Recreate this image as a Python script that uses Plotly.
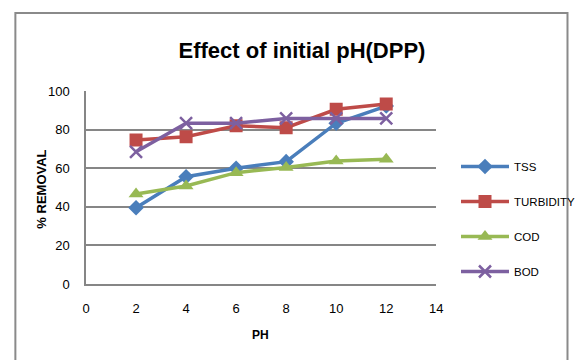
import plotly.graph_objects as go

ph = [2, 4, 6, 8, 10, 12]
tss = [39.5, 55.6, 60.0, 63.4, 83.3, 92.2]
turbidity = [74.6, 76.3, 82.0, 81.0, 90.5, 93.3]
cod = [46.6, 50.8, 57.7, 60.4, 63.7, 64.6]
bod = [68.5, 83.3, 83.3, 85.8, 85.8, 85.8]

names = ["TSS", "TURBIDITY", "COD", "BOD"]
colors = ["#4A7EBB", "#BE4B48", "#98B954", "#7D60A0"]
symbols = ["diamond", "square", "triangle-up", "x-thin"]
sizes = [12, 13, 13, 12]
series = [tss, turbidity, cod, bod]

W, H = 575, 360
L, R, T, B = 85.5, 122.5, 91, 76
pw, ph_ = W - L - R, H - T - B

FONT = "Liberation Sans"

fig = go.Figure()
for name, vals, c, s, sz in zip(names, series, colors, symbols, sizes):
    marker = dict(symbol=s, size=sz, color=c)
    if s == "x-thin":
        marker["line"] = dict(color=c, width=2.5)
    fig.add_trace(go.Scatter(
        x=ph, y=vals, name=name, mode="lines+markers",
        line=dict(color=c, width=3.5), marker=marker, legendgroup=name,
    ))

def px2paper_x(px):
    return (px - L) / pw

def py2paper_y(py):
    return (H - B - py) / ph_

fig.add_shape(type="rect", xref="paper", yref="paper",
              x0=px2paper_x(11.5), x1=px2paper_x(590),
              y0=py2paper_y(375), y1=py2paper_y(13),
              line=dict(color="#8A8A8A", width=2), fillcolor="rgba(0,0,0,0)", layer="below")

fig.add_annotation(text="<b>% REMOVAL</b>", textangle=-90, xref="paper", yref="paper",
                   x=px2paper_x(38), y=py2paper_y(189), showarrow=False,
                   xanchor="center", yanchor="middle",
                   font=dict(family=FONT, size=13, color="#000"))
fig.add_annotation(text="<b>PH</b>", xref="paper", yref="paper",
                   x=px2paper_x(268), y=py2paper_y(335), showarrow=False,
                   xanchor="center", yanchor="middle",
                   font=dict(family=FONT, size=12, color="#000"))

fig.update_layout(
    width=W, height=H,
    margin=dict(l=L, r=R, t=T, b=B),
    paper_bgcolor="white", plot_bgcolor="white",
    title=dict(text="<b>Effect of initial pH(DPP)</b>", xref="container", yref="container",
               x=302 / W, y=1 - 50 / H, xanchor="center", yanchor="middle",
               font=dict(family=FONT, size=22, color="#000")),
    font=dict(family=FONT, size=12, color="#000"),
    xaxis=dict(range=[0, 14], tickvals=[0, 2, 4, 6, 8, 10, 12, 14], showgrid=False,
               showline=True, linecolor="#868686", linewidth=1.5, zeroline=False,
               ticks="", ticklabelstandoff=12, tickfont=dict(size=13)),
    yaxis=dict(range=[0, 100], tickvals=[0, 20, 40, 60, 80, 100], showgrid=True,
               gridcolor="#868686", gridwidth=1.5, showline=True, linecolor="#868686",
               linewidth=1.5, zeroline=False, ticks="", ticklabelstandoff=12,
               tickfont=dict(size=13)),
    legend=dict(xref="container", yref="container", x=456 / W, y=1 - 219 / H,
                xanchor="left", yanchor="middle", font=dict(family=FONT, size=11.5),
                itemwidth=48, tracegroupgap=16, bgcolor="rgba(0,0,0,0)"),
    showlegend=True,
)

fig.write_html("out.html")
